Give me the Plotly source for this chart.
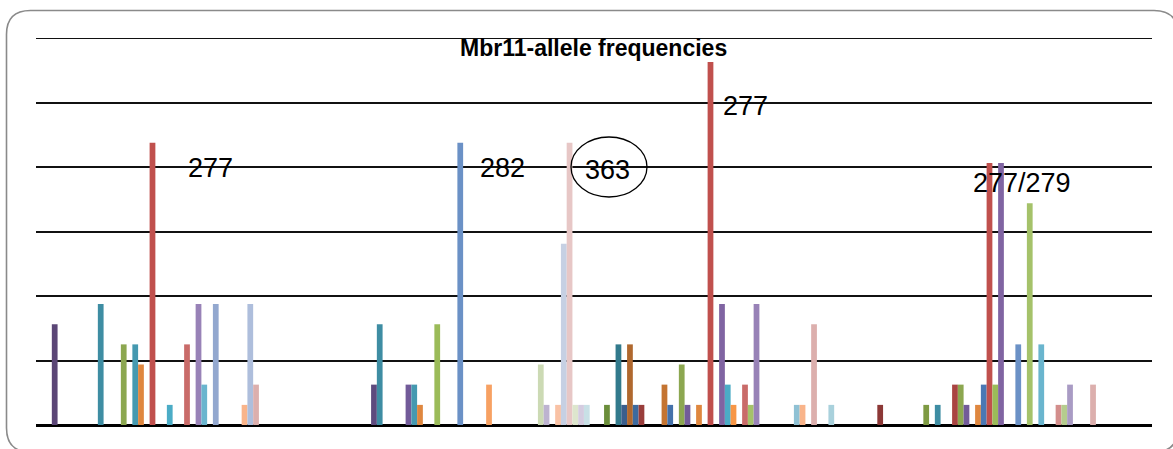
import plotly.graph_objects as go

# ---------------- data ----------------
populations = ["Pop 1", "Pop 2", "Pop 3", "Pop 4"]
allele_names = ["Allele %d" % (i + 1) for i in range(47)]

# allele frequencies per population (47 alleles each)
pop1 = [0, 0, 0.0781, 0, 0, 0, 0, 0, 0, 0,
        0.0938, 0, 0, 0, 0.0625, 0, 0.0625, 0.0469, 0, 0.2188,
        0, 0, 0.0156, 0, 0, 0.0625, 0, 0.0938, 0.0313, 0,
        0.0938, 0, 0, 0, 0, 0.0156, 0.0938, 0.0313, 0, 0,
        0, 0, 0, 0, 0, 0, 0]
pop2 = [0, 0, 0, 0, 0, 0, 0, 0, 0, 0.0313,
        0.0781, 0, 0, 0, 0, 0.0313, 0.0313, 0.0156, 0, 0,
        0.0781, 0, 0, 0, 0.2188, 0, 0, 0, 0, 0.0313,
        0, 0, 0, 0, 0, 0, 0, 0, 0.0469, 0.0156,
        0, 0.0156, 0.1406, 0.2188, 0.0156, 0.0156, 0.0156]
pop3 = [0, 0.0156, 0, 0.0625, 0.0156, 0.0625, 0.0156, 0.0156, 0, 0,
        0, 0.0313, 0.0156, 0, 0.0469, 0.0156, 0, 0.0156, 0, 0.2813,
        0, 0.0938, 0.0313, 0.0156, 0, 0.0313, 0.0156, 0.0938, 0, 0,
        0, 0, 0, 0, 0.0156, 0.0156, 0, 0.0781, 0, 0,
        0.0156, 0, 0, 0, 0, 0, 0]
pop4 = [0.0156, 0, 0, 0, 0, 0, 0, 0, 0.0156, 0,
        0.0156, 0, 0, 0.0313, 0.0313, 0.0156, 0, 0.0156, 0.0313, 0.2031,
        0.0313, 0.2031, 0, 0, 0.0625, 0, 0.1719, 0, 0.0625, 0,
        0, 0.0156, 0.0156, 0.0313, 0, 0, 0, 0.0313, 0, 0,
        0, 0, 0, 0, 0, 0, 0]

colors = ["#8C3836", "#6B8E3B", "#5B4676", "#327A8C", "#3A5E8C", "#B0682E",
          "#3D6A9E", "#993D3B", "#7E9A43", "#5E4A7E", "#3E8DA3", "#C47431",
          "#4471AA", "#A94442", "#8CA750", "#725B99", "#4599B0", "#DF873F",
          "#4A78B4", "#C0504D", "#9BBB59", "#8064A2", "#4BACC6", "#F79646",
          "#6B91C6", "#C96B69", "#A5C26A", "#9882B7", "#6AB5CE", "#F7A163",
          "#93A8CF", "#D38E8C", "#B5CC8E", "#A99BC4", "#8FC1D4", "#F9B48A",
          "#AEBEDC", "#DCAFAD", "#CCDAB4", "#BDB3D0", "#A9D1DC", "#F9C2A5",
          "#C6D0E3", "#E7C7C6", "#DDE6CD", "#D4CCE0", "#C8E0E6"]

y_ticks = [0, 0.05, 0.1, 0.15, 0.2, 0.25, 0.3]

# ---------------- figure ----------------
W, H = 1173, 449
ML, MR, MT, MB = 36, 21, 38, 24
PW, PH = W - ML - MR, H - MT - MB


def px(x):
    return (x - ML) / PW


def py(y):
    return (H - MB - y) / PH


fig = go.Figure()
for i, name in enumerate(allele_names):
    fig.add_trace(go.Bar(
        x=populations,
        y=[pop1[i], pop2[i], pop3[i], pop4[i]],
        name=name,
        marker=dict(color=colors[i], line=dict(width=0)),
        hoverinfo="name+y",
    ))

font_family = "Liberation Sans, Arial, sans-serif"
lab_font = dict(size=27, family=font_family, color="black")

annotations = [
    dict(text="<b>Mbr11-allele frequencies</b>", x=px(593), y=py(48),
         font=dict(size=23, family=font_family, color="black")),
    dict(text="277", x=px(210), y=py(168), font=lab_font),
    dict(text="282", x=px(502), y=py(168), font=lab_font),
    dict(text="363", x=px(607), y=py(170), font=lab_font),
    dict(text="277", x=px(745), y=py(106), font=lab_font),
    dict(text="277/279", x=px(1022), y=py(183), font=lab_font),
]
for a in annotations:
    a.update(xref="paper", yref="paper", showarrow=False, xanchor="center", yanchor="middle")

# rounded outer border
L, T, R, B, r = 6.5, 10.5, 1178, 452, 24
path = ("M {a},{b} L {c},{b} Q {d},{b} {d},{e} L {d},{f} Q {d},{g} {c},{g} "
        "L {a},{g} Q {h},{g} {h},{f} L {h},{e} Q {h},{b} {a},{b} Z").format(
    a=px(L + r), b=py(T), c=px(R - r), d=px(R), e=py(T + r), f=py(B - r), g=py(B), h=px(L))

shapes = [
    dict(type="path", path=path, xref="paper", yref="paper",
         line=dict(color="#8A8A8A", width=1.6), fillcolor="rgba(0,0,0,0)", layer="below"),
    # top gridline (at the range maximum, which plotly does not draw itself)
    dict(type="line", xref="paper", yref="y", x0=0, x1=1, y0=y_ticks[-1], y1=y_ticks[-1],
         line=dict(color="#111111", width=2), layer="below"),
    dict(type="circle", xref="paper", yref="paper",
         x0=px(571), x1=px(647), y0=py(197), y1=py(137),
         line=dict(color="black", width=1.3)),
]

fig.update_layout(
    width=W, height=H, autosize=False,
    margin=dict(l=ML, r=MR, t=MT, b=MB, pad=0),
    paper_bgcolor="white", plot_bgcolor="white",
    barmode="group", bargap=1.5 / 48.5, bargroupgap=0,
    showlegend=False,
    annotations=annotations, shapes=shapes,
    xaxis=dict(showticklabels=False, showgrid=False, zeroline=False, showline=False,
               ticks=""),
    yaxis=dict(range=[0, 0.3], tickvals=y_ticks, showticklabels=False,
               showgrid=True, gridcolor="#111111", gridwidth=2,
               zeroline=True, zerolinecolor="black", zerolinewidth=3,
               showline=False, ticks=""),
)

fig.write_html("out.html", config={"displayModeBar": False},
               post_script="document.body.style.margin='0px';")
